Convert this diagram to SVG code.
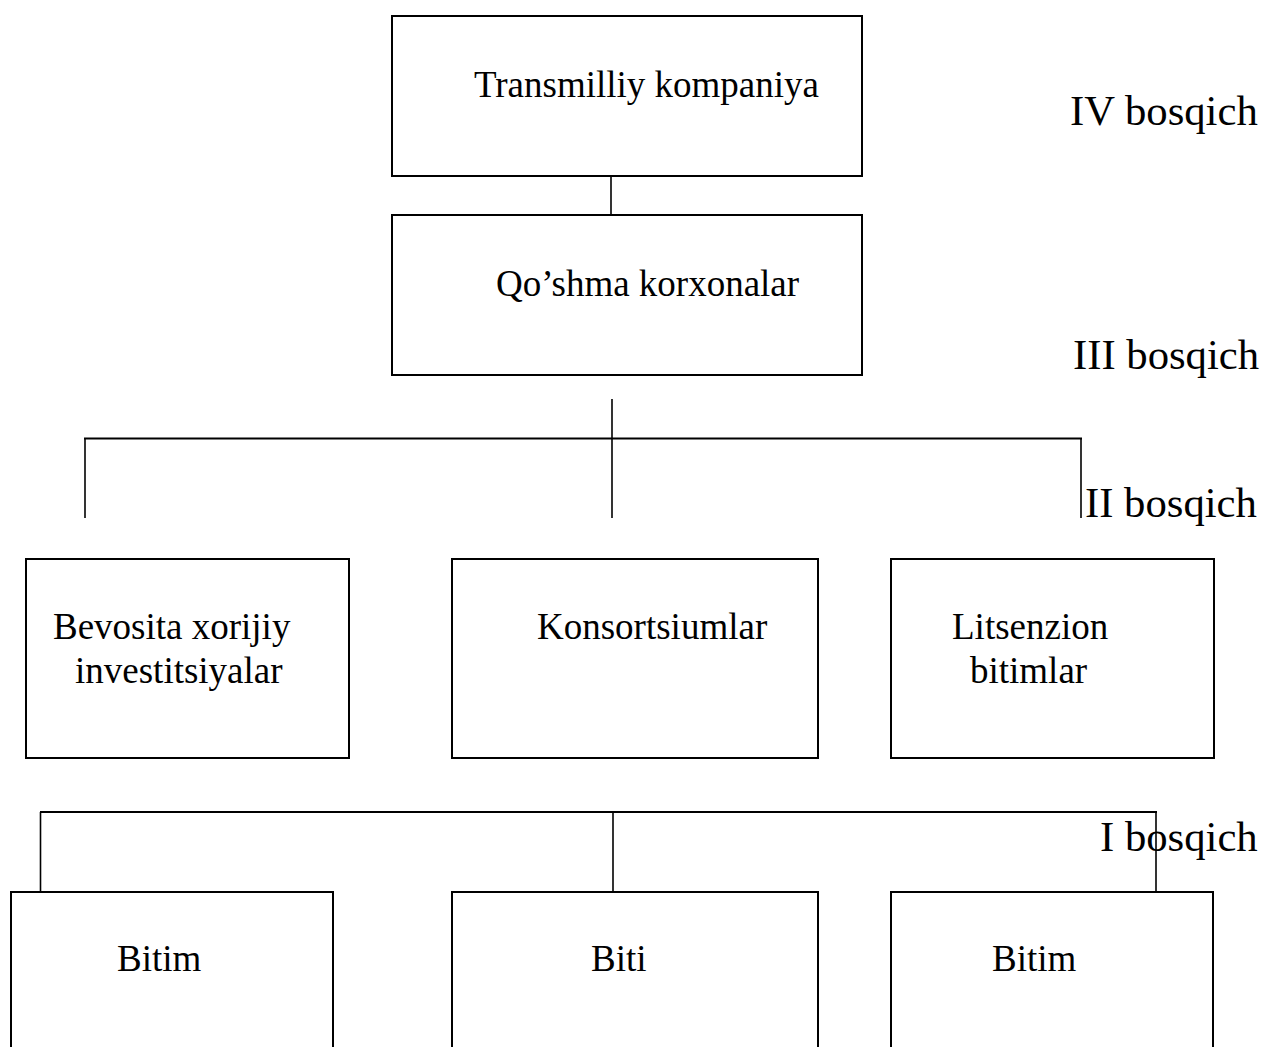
<svg xmlns="http://www.w3.org/2000/svg" width="1261" height="1047" viewBox="0 0 1261 1047">
<style>
.box{fill:#fff;stroke:#000;stroke-width:2}
.ln{stroke:#000;stroke-width:1.6;fill:none}
.hl{stroke:#000;stroke-width:2.2;fill:none}
.t{font-family:"Liberation Serif","Times New Roman",serif;font-size:37px;fill:#000}
.lb{font-family:"Liberation Serif","Times New Roman",serif;font-size:42.7px;fill:#000}
</style>
<rect width="1261" height="1047" fill="#fff"/>
<g id="connectors">
<line class="ln" x1="611" y1="170" x2="611" y2="215"/>
<line class="ln" x1="612" y1="399" x2="612" y2="518"/>
<line class="hl" x1="84" y1="438.5" x2="1082" y2="438.5"/>
<line class="ln" x1="85" y1="438" x2="85" y2="518"/>
<line class="ln" x1="1081" y1="438" x2="1081" y2="518"/>
<line class="hl" x1="40" y1="812" x2="1157" y2="812"/>
<line class="ln" x1="40.5" y1="812" x2="40.5" y2="892"/>
<line class="ln" x1="613" y1="812" x2="613" y2="892"/>
<line class="ln" x1="1156" y1="812" x2="1156" y2="892"/>
</g>
<g id="n-transmilliy">
<rect class="box" x="392" y="16" width="470" height="160"/>
<text class="t" x="474" y="97">Transmilliy kompaniya</text>
</g>
<g id="n-qoshma">
<rect class="box" x="392" y="215" width="470" height="160"/>
<text class="t" x="496" y="296">Qo’shma korxonalar</text>
</g>
<g id="n-bevosita">
<rect class="box" x="26" y="559" width="323" height="199"/>
<text class="t" x="53" y="639">Bevosita xorijiy</text>
<text class="t" x="75" y="683">investitsiyalar</text>
</g>
<g id="n-konsortsiumlar">
<rect class="box" x="452" y="559" width="366" height="199"/>
<text class="t" x="537" y="639">Konsortsiumlar</text>
</g>
<g id="n-litsenzion">
<rect class="box" x="891" y="559" width="323" height="199"/>
<text class="t" x="952" y="639">Litsenzion</text>
<text class="t" x="970" y="683">bitimlar</text>
</g>
<g id="n-bitim1">
<rect class="box" x="11" y="892" width="322" height="200"/>
<text class="t" x="117" y="971">Bitim</text>
</g>
<g id="n-biti">
<rect class="box" x="452" y="892" width="366" height="200"/>
<text class="t" x="591" y="971">Biti</text>
</g>
<g id="n-bitim2">
<rect class="box" x="891" y="892" width="322" height="200"/>
<text class="t" x="992" y="971">Bitim</text>
</g>
<g id="labels">
<text class="lb" x="1070" y="125">IV bosqich</text>
<text class="lb" x="1073" y="369">III bosqich</text>
<text class="lb" x="1085" y="517">II bosqich</text>
<text class="lb" x="1100" y="851">I bosqich</text>
</g>
</svg>
